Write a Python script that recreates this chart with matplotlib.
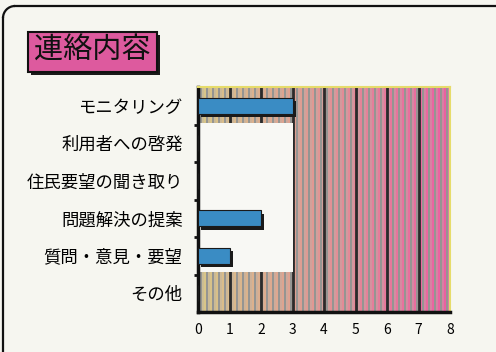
import matplotlib.pyplot as plt
import matplotlib.patheffects as pe
from matplotlib.patches import Rectangle, Arc
from matplotlib.colors import to_rgb
import numpy as np

# data
categories = ["モニタリング", "利用者への啓発", "住民要望の聞き取り",
              "問題解決の提案", "質問・意見・要望", "その他"]
values = [3, 0, 0, 2, 1, 0]
xticks = [0, 1, 2, 3, 4, 5, 6, 7, 8]
title = "連絡内容"

W, H = 496, 352
plt.rcParams['font.family'] = ['Noto Sans CJK JP', 'DejaVu Sans']

fig = plt.figure(figsize=(W / 100, H / 100), dpi=100)
fig.patch.set_facecolor('#f6f6f0')

# overlay in pixel coordinates for the frame and the title box
bg = fig.add_axes([0, 0, 1, 1], zorder=-1)
bg.set_xlim(0, W)
bg.set_ylim(H, 0)
bg.axis('off')

r = 12
bg.plot([3 + r, W + 5], [6, 6], color='#111111', lw=1.6)
bg.plot([3, 3], [6 + r, H + 5], color='#111111', lw=1.6)
bg.add_patch(Arc((3 + r, 6 + r), 2 * r, 2 * r, theta1=180, theta2=270,
                 color='#111111', lw=1.6))

# title box with shadow
bg.add_patch(Rectangle((31, 35), 129, 40, facecolor='#1a1a1a', edgecolor='none'))
bg.add_patch(Rectangle((28, 32), 129, 40, facecolor='#dd5a9e',
                       edgecolor='#111111', linewidth=1.5))
bg.text(92, 51, title, fontsize=21, ha='center', va='center', color='#111111')

ax = fig.add_axes([198 / W, 1 - 312 / H, 252 / W, 225 / H])
ax.set_xlim(0, 8)
ax.set_ylim(len(categories) - 0.5, -0.5)

# striped background
n = 126
t = np.linspace(0, 1, n)[:, None]
left_c = np.array(to_rgb('#d8c888'))
right_c = np.array(to_rgb('#ec5fa2'))
base = left_c * (1 - t) + right_c * t
grey = np.array(to_rgb('#959592'))
light = base * 0.6 + np.array(to_rgb('#b8b0a8')) * 0.4
k = np.arange(n) % 3
cols = np.where((k == 0)[:, None], base, np.where((k == 1)[:, None], grey, light))
ax.imshow(cols[None, :, :], extent=(0, 8, len(categories) - 0.5, -0.5),
          aspect='auto', zorder=0, interpolation='nearest')

for x in xticks[1:-1]:
    ax.axvline(x, color='#2a2a2a', linewidth=2, zorder=1)

# white patch over the left part
ax.add_patch(Rectangle((0, 0.47), 3, 3.95, facecolor='#f8f8f4',
                       edgecolor='none', zorder=2))

y = np.arange(len(categories))
ax.barh(y, values, height=0.42, color='#3a8cc4', edgecolor='#1a1a1a',
        linewidth=0.8, zorder=3,
        path_effects=[pe.SimplePatchShadow(offset=(2.5, -2.5),
                                           shadow_rgbFace='#1a1a1a', alpha=1),
                      pe.Normal()])

ax.set_yticks(y)
ax.set_yticklabels(categories, fontsize=12.5)
ax.set_yticks(y[:-1] + 0.5, minor=True)
ax.tick_params(axis='y', which='major', length=0, pad=11)
ax.tick_params(axis='y', which='minor', length=3, width=2, color='#111111')
ax.set_xticks(xticks)
ax.set_xticklabels([str(v) for v in xticks], fontsize=10)
ax.tick_params(axis='x', length=0, pad=8)

for s in ['left', 'bottom']:
    ax.spines[s].set_color('#111111')
    ax.spines[s].set_linewidth(2.5)
for s in ['top', 'right']:
    ax.spines[s].set_color('#e6dc6a')
    ax.spines[s].set_linewidth(1.5)

fig.savefig('out.png', dpi=100, facecolor=fig.get_facecolor())
